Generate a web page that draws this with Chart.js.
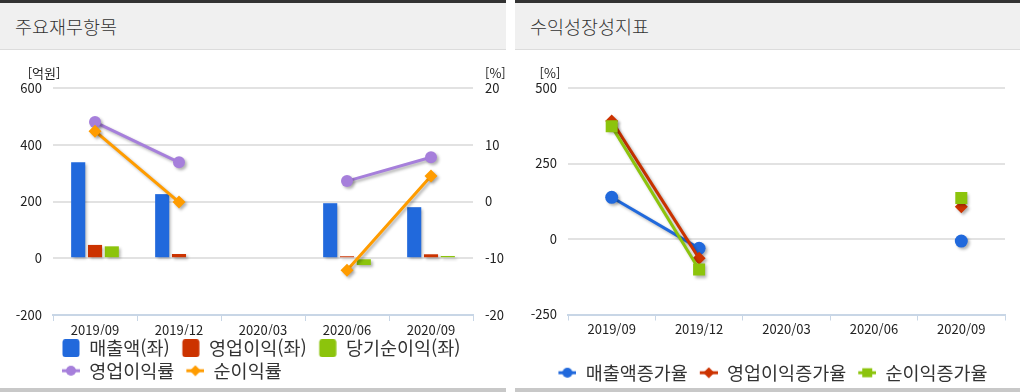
<!DOCTYPE html>
<html lang="ko">
<head>
    <meta charset="UTF-8">
    <title>주요재무항목 / 수익성장성지표</title>
    <script src="https://cdn.jsdelivr.net/npm/chart.js"></script>
    <style>
        body {
            margin: 0;
            width: 1020px;
            height: 392px;
            overflow: hidden;
            background: #fff;
            font-family: "Noto Sans CJK KR", "Noto Sans", sans-serif;
        }
        .panel {
            position: absolute;
            top: 0;
            height: 392px;
            box-sizing: border-box;
            border-top: 3px solid #333;
            border-bottom: 4px solid #c8c8c8;
        }
        #p1 { left: 0; width: 506px; }
        #p2 { left: 515px; width: 505px; }
        .head {
            height: 46px;
            line-height: 46px;
            background: #f0f0f0;
            border-bottom: 1px solid #dcdcdc;
            padding-left: 15px;
            font-size: 18.5px;
            font-weight: 300;
            color: #333;
        }
        .box { position: relative; height: 338px; }
    </style>
</head>
<body>
    <div class="panel" id="p1">
        <div class="head">주요재무항목</div>
        <div class="box"><canvas id="finChart"></canvas></div>
    </div>
    <div class="panel" id="p2">
        <div class="head">수익성장성지표</div>
        <div class="box"><canvas id="growthChart"></canvas></div>
    </div>

    <script>
        // 분기
        const quarters = ['2019/09', '2019/12', '2020/03', '2020/06', '2020/09'];

        // 주요재무항목 (억원)
        const sales = [338, 226, null, 194, 180];
        const opProfit = [47, 15, null, 7, 14];
        const netProfit = [42, 0, null, -24, 8];
        // (%)
        const opMargin = [14.0, 6.9, null, 3.6, 7.8];
        const netMargin = [12.4, -0.1, null, -12.1, 4.5];

        // 수익성장성지표 (%)
        const salesGrowth = [138, -31, null, null, -7];
        const opGrowth = [391, -64, null, null, 107];
        const netGrowth = [373, -101, null, null, 136];

        const leftTicks = { min: -200, max: 600, step: 200 };
        const rightTicks = { min: -20, max: 20, step: 10 };
        const growthTicks = { min: -250, max: 500, step: 250 };

        const BLUE = '#2169dc', RED = '#cc3300', GREEN = '#8cc40c';
        const PURPLE = '#a67fdb', ORANGE = '#ff9c00';

        Chart.defaults.font.family = '"Noto Sans CJK KR", "Noto Sans", sans-serif';
        Chart.defaults.color = '#222';

        // 범례 아이콘 (왼쪽 여백 = 항목 간격)
        const GAP = 8;
        function boxIcon(color) {
            const c = document.createElement('canvas');
            c.width = 18 + GAP; c.height = 18;
            const g = c.getContext('2d');
            g.fillStyle = color;
            g.beginPath();
            g.roundRect(GAP + 0.5, 0, 17, 18, 3);
            g.fill();
            return c;
        }
        function lineIcon(color, shape) {
            const c = document.createElement('canvas');
            c.width = 18 + GAP; c.height = 12;
            const g = c.getContext('2d');
            g.translate(GAP, 0);
            g.fillStyle = color;
            g.fillRect(0, 4.5, 18, 3);
            g.beginPath();
            if (shape === 'circle') {
                g.arc(9, 6, 5, 0, Math.PI * 2);
            } else if (shape === 'diamond') {
                g.moveTo(9, 0.5); g.lineTo(14.5, 6); g.lineTo(9, 11.5); g.lineTo(3.5, 6);
            } else {
                g.rect(4, 1.5, 10, 9);
            }
            g.fill();
            return c;
        }

        // 그림자
        const shadowPlugin = {
            id: 'shadow',
            beforeDatasetDraw(chart) {
                const ctx = chart.ctx;
                ctx.save();
                ctx.shadowColor = 'rgba(0,0,0,0.3)';
                ctx.shadowBlur = 3;
                ctx.shadowOffsetX = 2;
                ctx.shadowOffsetY = 2;
            },
            afterDatasetDraw(chart) {
                chart.ctx.restore();
            }
        };

        // 범례 위치 보정
        const legendShift = {
            id: 'legendShift',
            afterLayout(chart, args, opts) {
                if (chart.legend) {
                    chart.legend.left += opts.dx;
                    chart.legend.right += opts.dx;
                }
            }
        };

        // 단위 표시
        const unitPlugin = {
            id: 'units',
            afterDraw(chart, args, opts) {
                const ctx = chart.ctx;
                ctx.save();
                ctx.font = '13px "Noto Sans CJK KR", sans-serif';
                ctx.fillStyle = '#222';
                ctx.textBaseline = 'middle';
                opts.items.forEach(it => {
                    const s = chart.scales[it.axis];
                    ctx.textAlign = it.align;
                    const x = it.align === 'left' ? s.left + it.dx : s.right + it.dx;
                    ctx.fillText(it.text, x, chart.chartArea.top - 15);
                });
                ctx.restore();
            }
        };

        function legendItems(items) {
            return chart => items.map(it => ({
                text: it.text,
                pointStyle: it.icon,
                fillStyle: 'transparent',
                strokeStyle: 'transparent',
                lineWidth: 0,
                fontColor: '#333',
                hidden: !chart.isDatasetVisible(it.index),
                datasetIndex: it.index
            }));
        }

        const legendLabels = (items) => ({
            usePointStyle: true,
            pointStyleWidth: 18 + GAP,
            padding: 4,
            font: { size: 18.5 },
            color: '#333',
            generateLabels: legendItems(items)
        });

        const xAxis = (height) => ({
            offset: true,
            afterFit: s => { s.height = height; },
            grid: { offset: true, drawOnChartArea: false, drawTicks: true, tickLength: 6, color: '#c8d6e6', lineWidth: 1 },
            border: { color: '#c8d6e6', width: 2 },
            ticks: { font: { size: 13 }, color: '#222', padding: 1, maxRotation: 0, autoSkip: false }
        });

        const leftAxis = (t) => ({
            position: 'left',
            min: t.min, max: t.max,
            afterFit: s => { s.width = 53; },
            ticks: { stepSize: t.step, font: { size: 13 }, color: '#222', padding: 11 },
            grid: { color: '#e2e2e2', lineWidth: 2, drawTicks: false },
            border: { display: false }
        });

        // 주요재무항목
        new Chart(document.getElementById('finChart'), {
            data: {
                labels: quarters,
                datasets: [
                    { type: 'bar', label: '매출액(좌)', data: sales, backgroundColor: BLUE, yAxisID: 'y', order: 3 },
                    { type: 'bar', label: '영업이익(좌)', data: opProfit, backgroundColor: RED, yAxisID: 'y', order: 4 },
                    { type: 'bar', label: '당기순이익(좌)', data: netProfit, backgroundColor: GREEN, yAxisID: 'y', order: 5 },
                    { type: 'line', label: '영업이익률', data: opMargin, borderColor: PURPLE, backgroundColor: PURPLE,
                      borderWidth: 3, pointRadius: 6, pointStyle: 'circle', pointBorderWidth: 0, yAxisID: 'y1', order: 1 },
                    { type: 'line', label: '순이익률', data: netMargin, borderColor: ORANGE, backgroundColor: ORANGE,
                      borderWidth: 3, pointRadius: 6.5, pointStyle: 'rectRot', pointBorderWidth: 0, yAxisID: 'y1', order: 0 }
                ]
            },
            options: {
                responsive: true,
                maintainAspectRatio: false,
                animation: false,
                datasets: { bar: { categoryPercentage: 0.6, barPercentage: 0.84 } },
                layout: { padding: { top: 38, left: 0, right: 0, bottom: -2 } },
                plugins: {
                    tooltip: { enabled: false },
                    legend: {
                        position: 'bottom',
                        align: 'start',
                        labels: legendLabels([
                            { text: '매출액(좌)', icon: boxIcon(BLUE), index: 0 },
                            { text: '영업이익(좌)', icon: boxIcon(RED), index: 1 },
                            { text: '당기순이익(좌)', icon: boxIcon(GREEN), index: 2 },
                            { text: '영업이익률', icon: lineIcon(PURPLE, 'circle'), index: 3 },
                            { text: '순이익률', icon: lineIcon(ORANGE, 'diamond'), index: 4 }
                        ])
                    },
                    legendShift: { dx: 50 },
                    units: {
                        items: [
                            { text: '[억원]', axis: 'y', align: 'center', dx: -9 },
                            { text: '[%]', axis: 'y1', align: 'left', dx: 12 }
                        ]
                    }
                },
                scales: {
                    x: xAxis(20),
                    y: leftAxis(leftTicks),
                    y1: {
                        position: 'right',
                        min: rightTicks.min, max: rightTicks.max,
                        afterFit: s => { s.width = 33; },
                        ticks: { stepSize: rightTicks.step, font: { size: 13 }, color: '#222', padding: 12 },
                        grid: { display: false, drawTicks: false },
                        border: { display: false }
                    }
                }
            },
            plugins: [shadowPlugin, unitPlugin, legendShift]
        });

        // 수익성장성지표
        new Chart(document.getElementById('growthChart'), {
            type: 'line',
            data: {
                labels: quarters,
                datasets: [
                    { label: '매출액증가율', data: salesGrowth, borderColor: BLUE, backgroundColor: BLUE,
                      borderWidth: 3, pointRadius: 6.5, pointStyle: 'circle', pointBorderWidth: 0, order: 2 },
                    { label: '영업이익증가율', data: opGrowth, borderColor: RED, backgroundColor: RED,
                      borderWidth: 3, pointRadius: 6.5, pointStyle: 'rectRot', pointBorderWidth: 0, order: 1 },
                    { label: '순이익증가율', data: netGrowth, borderColor: GREEN, backgroundColor: GREEN,
                      borderWidth: 3, pointRadius: 8.5, pointStyle: 'rect', pointBorderWidth: 0, order: 0 }
                ]
            },
            options: {
                responsive: true,
                maintainAspectRatio: false,
                animation: false,
                layout: { padding: { top: 38, left: 0, right: 15, bottom: -4 } },
                plugins: {
                    tooltip: { enabled: false },
                    legend: {
                        position: 'bottom',
                        align: 'center',
                        labels: legendLabels([
                            { text: '매출액증가율', icon: lineIcon(BLUE, 'circle'), index: 0 },
                            { text: '영업이익증가율', icon: lineIcon(RED, 'diamond'), index: 1 },
                            { text: '순이익증가율', icon: lineIcon(GREEN, 'square'), index: 2 }
                        ])
                    },
                    legendShift: { dx: 9 },
                    units: {
                        items: [
                            { text: '[%]', axis: 'y', align: 'center', dx: -18 }
                        ]
                    }
                },
                scales: {
                    x: xAxis(45),
                    y: leftAxis(growthTicks)
                }
            },
            plugins: [shadowPlugin, unitPlugin, legendShift]
        });
    </script>
</body>
</html>
